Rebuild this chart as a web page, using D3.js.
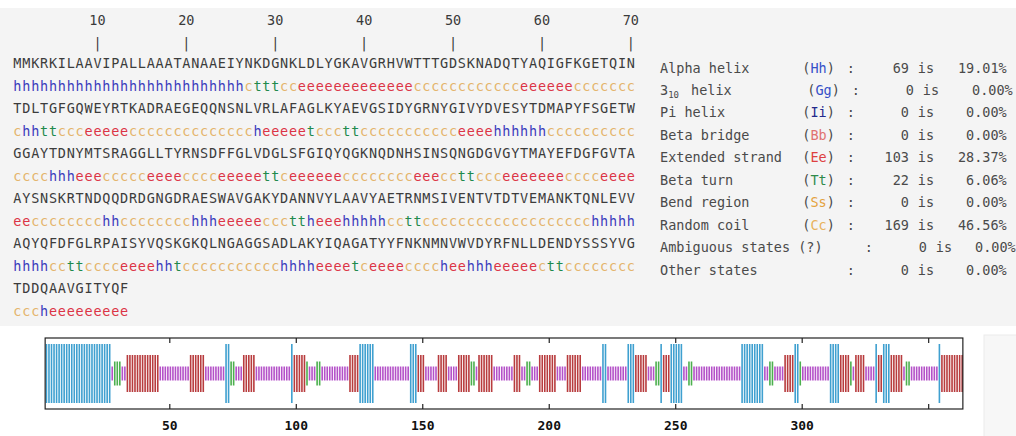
<!DOCTYPE html>
<html>
<head>
<meta charset="utf-8">
<script src="https://cdn.jsdelivr.net/npm/d3@7/dist/d3.min.js"></script>
<style>
  body { margin: 0; background: #fff; }
  svg { display: block; font-family: "DejaVu Sans Mono", monospace; }
</style>
</head>
<body>
<svg id="chart" width="1016" height="436"></svg>
<script>
// sequence, 70 residues per line
var sequenceRows = [
  "MMKRKILAAVIPALLAAATANAAEIYNKDGNKLDLYGKAVGRHVWTTTGDSKNADQTYAQIGFKGETQIN",
  "TDLTGFGQWEYRTKADRAEGEQQNSNLVRLAFAGLKYAEVGSIDYGRNYGIVYDVESYTDMAPYFSGETW",
  "GGAYTDNYMTSRAGGLLTYRNSDFFGLVDGLSFGIQYQGKNQDNHSINSQNGDGVGYTMAYEFDGFGVTA",
  "AYSNSKRTNDQQDRDGNGDRAESWAVGAKYDANNVYLAAVYAETRNMSIVENTVTDTVEMANKTQNLEVV",
  "AQYQFDFGLRPAISYVQSKGKQLNGAGGSADLAKYIQAGATYYFNKNMNVWVDYRFNLLDENDYSSSYVG",
  "TDDQAAVGITYQF"
];
// predicted state per residue (spaces only for reading, stripped below)
var structureRows = [
  "hhhhhhhhhh hhhhhhhhhh hhhhhh c ttt cc eeeeeeeeee eee cccccccccc cc eeeeee ccccccc",
  "c hh tt ccc eeeee cccccccccc cccc h eeeee t ccc tt cccccccccc c eeee hhhhhh cccccccccc",
  "cccc hhh eee ccccc eeee cccc eeeee tt c eeeeee cccccccc eee cc tt ccc eeeeeee cccc eeee",
  "ee cccccccc hh cccccccc hhh eeeee ccc tt h eee hhhhh cc tt cccccccccc ccccccccc hhhhh",
  "hhhh cc tt cccc eeee hh t cccccccccc c hhhh eeee t c eeee cccc h ee hhh eeeee c tt cccccccc",
  "ccc h eeeeeeeee"
].map(function (s) { return s.replace(/ /g, ""); });

var rulerTicks = [10, 20, 30, 40, 50, 60, 70];

var stateNames = ["Alpha helix", "3", "Pi helix", "Beta bridge", "Extended strand",
  "Beta turn", "Bend region", "Random coil", "Ambiguous states (?)", "Other states"];
var stateCodes = ["Hh", "Gg", "Ii", "Bb", "Ee", "Tt", "Ss", "Cc", "", ""];
var stateCounts = [69, 0, 0, 0, 103, 22, 0, 169, 0, 0];
var statePercents = ["19.01%", "0.00%", "0.00%", "0.00%", "28.37%", "6.06%", "0.00%", "46.56%", "0.00%", "0.00%"];

var axisTicks = [50, 100, 150, 200, 250, 300, 350];
var axisLabels = [50, 100, 150, 200, 250, 300];

var svg = d3.select("#chart");

// panels
svg.append("rect").attr("x", 0).attr("y", 8).attr("width", 1016).attr("height", 318).attr("fill", "#f4f4f4");
svg.append("rect").attr("x", 984).attr("y", 335).attr("width", 40).attr("height", 110)
  .attr("fill", "#f7f7f7").attr("stroke", "#ebebeb");

// letter colours
var letterColor = d3.scaleOrdinal()
  .domain(["h", "e", "t", "c"])
  .range(["#3b3cbc", "#dc3446", "#1f8a4d", "#e4b46c"]);

var col = d3.scaleLinear().domain([0, 70]).range([13, 13 + 70 * 8.89]);
var rowY = function (r) { return 68 + r * 45.05; };

// ruler
var ruler = svg.append("g").attr("fill", "#3a3a3a").attr("font-size", 13.5).attr("text-anchor", "middle");
ruler.selectAll("text.num").data(rulerTicks).enter().append("text")
  .attr("class", "num")
  .attr("x", function (d) { return col(d - 0.5); })
  .attr("y", 25)
  .text(function (d) { return d; });
ruler.selectAll("text.bar").data(rulerTicks).enter().append("text")
  .attr("class", "bar")
  .attr("x", function (d) { return col(d - 0.5); })
  .attr("y", 48)
  .text("|");

// sequence letters
var seqChars = [];
sequenceRows.forEach(function (row, r) {
  row.split("").forEach(function (ch, i) { seqChars.push({ ch: ch, r: r, i: i }); });
});
svg.append("g").attr("font-size", 13.5).attr("text-anchor", "middle").attr("fill", "#3c3c3c")
  .selectAll("text").data(seqChars).enter().append("text")
  .attr("x", function (d) { return col(d.i + 0.5); })
  .attr("y", function (d) { return rowY(d.r); })
  .text(function (d) { return d.ch; });

// structure letters
var ssChars = [];
structureRows.forEach(function (row, r) {
  row.split("").forEach(function (ch, i) { ssChars.push({ ch: ch, r: r, i: i, n: r * 70 + i + 1 }); });
});
svg.append("g").attr("font-size", 13.5).attr("text-anchor", "middle")
  .selectAll("text").data(ssChars).enter().append("text")
  .attr("x", function (d) { return col(d.i + 0.5); })
  .attr("y", function (d) { return rowY(d.r) + 22.5; })
  .attr("fill", function (d) { return letterColor(d.ch); })
  .text(function (d) { return d.ch; });

// summary table
var codeColor = ["#3550c8", "#3550c8", "#232a8c", "#e07272", "#de4040", "#2f8a4a", "#e4a23c", "#e8b25c", "#555", "#555"];
var lx = 660, cw = 8.89;
var colonShift = [0, 5, 0, 0, 0, 0, 0, 0, 18, 0];
var pctShift = [0, 6, 0, 0, 0, 0, 0, 0, 9, 0];
var table = svg.append("g").attr("font-size", 13.5).attr("fill", "#4a4a4a");
stateNames.forEach(function (name, i) {
  var y = 72.5 + i * 22.45;
  var t = table.append("text").attr("x", lx).attr("y", y);
  if (i === 1) {
    t.append("tspan").text("3");
    t.append("tspan").attr("font-size", 9).attr("dy", 3).text("10");
    t.append("tspan").attr("dy", -3).attr("dx", 4).text(" helix");
  } else {
    t.text(name);
  }
  if (stateCodes[i]) {
    var c = table.append("text").attr("x", lx + 16 * cw + colonShift[i]).attr("y", y);
    c.append("tspan").text("(");
    c.append("tspan").attr("fill", codeColor[i]).text(stateCodes[i]);
    c.append("tspan").text(")");
  }
  table.append("text").attr("x", lx + 21 * cw + colonShift[i]).attr("y", y).text(":");
  table.append("text").attr("x", lx + 28 * cw + colonShift[i]).attr("y", y)
    .attr("text-anchor", "end").text(stateCounts[i]);
  table.append("text").attr("x", lx + 29 * cw + colonShift[i]).attr("y", y).text("is");
  table.append("text").attr("x", lx + 39 * cw + pctShift[i]).attr("y", y)
    .attr("text-anchor", "end").text(statePercents[i]);
});

// residue plot
var x = d3.scaleLinear().domain([50, 300]).range([169.3, 801.7]);
var midY = 373.5;
var barH = d3.scaleOrdinal().domain(["h", "e", "t", "c"]).range([59, 37, 24, 14]);
var barColor = d3.scaleOrdinal().domain(["h", "e", "t", "c"])
  .range(["#3fa0d0", "#b83c3e", "#4db04f", "#b451c8"]);

svg.append("rect")
  .attr("x", x(1) - 0.2).attr("y", 338)
  .attr("width", x(363) + 1.8 - (x(1) - 0.2)).attr("height", 71)
  .attr("fill", "#fff");

svg.append("g").selectAll("rect").data(ssChars).enter().append("rect")
  .attr("x", function (d) { return x(d.n) + 0.3; })
  .attr("width", 1.6)
  .attr("y", function (d) { return midY - barH(d.ch) / 2; })
  .attr("height", function (d) { return barH(d.ch); })
  .attr("fill", function (d) { return barColor(d.ch); });

svg.append("rect")
  .attr("x", x(1) - 0.2).attr("y", 338)
  .attr("width", x(363) + 1.8 - (x(1) - 0.2)).attr("height", 71)
  .attr("fill", "none").attr("stroke", "#222").attr("stroke-width", 1.2);

var axB = svg.append("g").attr("transform", "translate(0,409)")
  .call(d3.axisBottom(x).tickValues(axisTicks).tickSize(-5).tickPadding(12)
    .tickFormat(function (d) { return axisLabels.indexOf(d) >= 0 ? d : ""; }));
axB.select(".domain").remove();
axB.selectAll("line").attr("stroke", "#222").attr("stroke-width", 1.2);
axB.selectAll("text").attr("font-family", "DejaVu Sans Mono, monospace")
  .attr("font-weight", "bold").attr("font-size", 13).attr("fill", "#111");

var axT = svg.append("g").attr("transform", "translate(0,338)")
  .call(d3.axisTop(x).tickValues(axisTicks).tickSize(-5).tickFormat(""));
axT.select(".domain").remove();
axT.selectAll("line").attr("stroke", "#222").attr("stroke-width", 1.2);
</script>
</body>
</html>
